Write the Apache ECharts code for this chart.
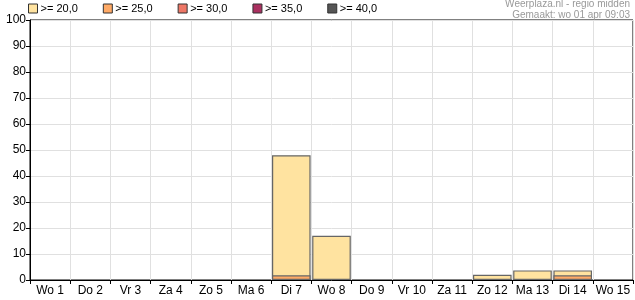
<!DOCTYPE html>
<html><head><meta charset="utf-8">
<script src="https://cdn.jsdelivr.net/npm/echarts@6/dist/echarts.min.js"></script>
<style>html,body{margin:0;padding:0;background:#fff}#c{width:635px;height:300px}</style>
</head><body><div id="c"></div>
<script>
const categories = ['Wo 1','Do 2','Vr 3','Za 4','Zo 5','Ma 6','Di 7','Wo 8','Do 9','Vr 10','Za 11','Zo 12','Ma 13','Di 14','Wo 15'];
const seriesNames = ['>= 20,0','>= 25,0','>= 30,0','>= 35,0','>= 40,0'];
const ge20 = [0,0,0,0,0,0,48,17,0,0,0,2,3.7,3.7,0];
const ge25 = [0,0,0,0,0,0,1.8,0,0,0,0,0,0,1.8,0];
const ge30 = [0,0,0,0,0,0,0,0,0,0,0,0,0,0,0];
const ge35 = [0,0,0,0,0,0,0,0,0,0,0,0,0,0,0];
const ge40 = [0,0,0,0,0,0,0,0,0,0,0,0,0,0,0];
const yTicks = [0,10,20,30,40,50,60,70,80,90,100];
const titleLines = ['Weerplaza.nl - regio midden','Gemaakt: wo 01 apr 09:03'];

const colors = ['#FFE3A0','#FFAA66','#EE7766','#AA3060','#555555'];
const allData = [ge20, ge25, ge30, ge35, ge40];
const font = '"Liberation Sans", Arial, sans-serif';

const chart = echarts.init(document.getElementById('c'), null, {renderer:'canvas'});
chart.setOption({
  animation:false,
  backgroundColor:'#fff',
  grid:{left:30,right:2,top:20,bottom:20,show:true,borderColor:'#000',borderWidth:1,backgroundColor:'transparent'},
  legend:{
    left:28, top:3, itemWidth:9, itemHeight:9, itemGap:25, padding:0,
    icon:'rect',
    itemStyle:{borderColor:'#333',borderWidth:1},
    textStyle:{fontFamily:font,fontSize:11,color:'#000',padding:[0,0,0,-2]},
    data:seriesNames
  },
  graphic: titleLines.map((t,i)=>({
    type:'text', right:5, top:-1+i*11,
    style:{text:t, fontFamily:font, fontSize:10, fill:'#999', textAlign:'right'}
  })),
  xAxis:{
    type:'category', data:categories, boundaryGap:true,
    axisLine:{lineStyle:{color:'#000',width:1}},
    axisTick:{show:true,inside:false,length:4,alignWithLabel:false,lineStyle:{color:'#000'}},
    axisLabel:{fontFamily:font,fontSize:12,color:'#000',margin:5,interval:0},
    splitLine:{show:true,interval:0,lineStyle:{color:'#e0e0e0',width:1}}
  },
  yAxis:{
    type:'value', min:yTicks[0], max:yTicks[yTicks.length-1], interval:10,
    axisLine:{show:true,lineStyle:{color:'#000',width:1}},
    axisTick:{show:true,length:4,lineStyle:{color:'#000'}},
    axisLabel:{fontFamily:font,fontSize:12,color:'#000',margin:4},
    splitLine:{show:true,lineStyle:{color:'#e0e0e0',width:1}}
  },
  series: seriesNames.map((n,i)=>({
    name:n, type:'bar', barGap:'-100%', barCategoryGap:'4%',
    itemStyle:{color:colors[i],borderColor:'#666',borderWidth:1.2},
    data: allData[i].map(v=> v>0 ? v : '-')
  }))
});
</script></body></html>
